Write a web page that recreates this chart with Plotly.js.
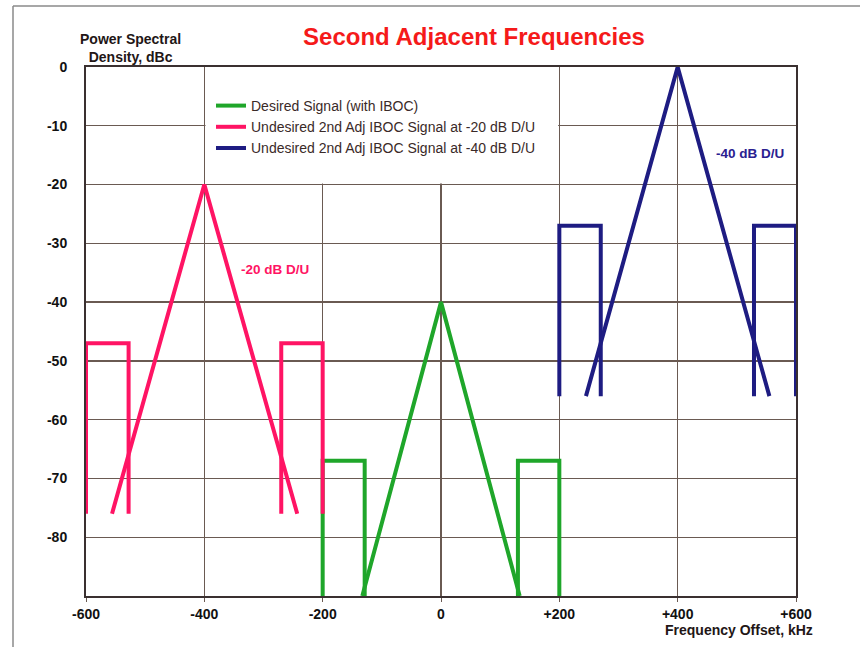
<!DOCTYPE html>
<html>
<head>
<meta charset="utf-8">
<script src="https://cdn.plot.ly/plotly-3.0.1.min.js"></script>
<style>
html,body{margin:0;padding:0;background:#fff;}
#chart{width:860px;height:647px;}
</style>
</head>
<body>
<div id="chart"></div>
<script>
// Desired signal (with IBOC), kHz / dBc
const desiredX = [-200, -200, -129, -129, null, -133, 0, 133, null, 130, 130, 200, 200];
const desiredY = [-90, -67, -67, -90, null, -90, -40, -90, null, -90, -67, -67, -90];
// Undesired 2nd adj at -20 dB D/U
const undes20X = [-600, -600, -528, -528, null, -556, -400, -243, null, -270, -270, -200, -200];
const undes20Y = [-76, -47, -47, -76, null, -76, -20, -76, null, -76, -47, -47, -76];
// Undesired 2nd adj at -40 dB D/U
const undes40X = [200, 200, 270, 270, null, 245, 400, 555, null, 529, 529, 600, 600];
const undes40Y = [-56, -27, -27, -56, null, -56, 0, -56, null, -56, -27, -27, -56];

const seriesNames = [
  'Desired Signal (with IBOC)',
  'Undesired 2nd Adj IBOC Signal at -20 dB D/U',
  'Undesired 2nd Adj IBOC Signal at -40 dB D/U'
];
const xTickVals = [-600, -400, -200, 0, 200, 400, 600];
const xTickText = ['-600', '-400', '-200', '0', '+200', '+400', '+600'];
const yTickVals = [0, -10, -20, -30, -40, -50, -60, -70, -80];
const yTickText = ['0', '-10', '-20', '-30', '-40', '-50', '-60', '-70', '-80'];

const colors = ['#1fa62a', '#ff1464', '#1e1c82'];

const traces = [
  {x: desiredX, y: desiredY, name: seriesNames[0], color: colors[0], g: 'a'},
  {x: undes20X, y: undes20Y, name: seriesNames[1], color: colors[1], g: 'b'},
  {x: undes40X, y: undes40Y, name: seriesNames[2], color: colors[2], g: 'c'}
].map(s => ({
  type: 'scatter', mode: 'lines', x: s.x, y: s.y, name: s.name,
  legendgroup: s.g,
  line: {color: s.color, width: 4, shape: 'linear'},
  connectgaps: false, hoverinfo: 'skip'
}));

const L = 86, R = 64, T = 67, B = 51, W = 860, H = 647;
const pw = W - L - R, ph = H - T - B;
const px = v => (v - L) / pw;
const py = v => (H - B - v) / ph;
const FF = 'Liberation Sans, Arial, sans-serif';

const layout = {
  width: W, height: H,
  margin: {l: L, r: R, t: T, b: B, pad: 0},
  paper_bgcolor: '#ffffff', plot_bgcolor: '#ffffff',
  font: {family: FF, color: '#111'},
  showlegend: true,
  title: {
    text: '<b>Second Adjacent Frequencies</b>',
    font: {size: 24, color: '#f51a1a', family: FF},
    x: 474 / W, xanchor: 'center', y: 1 - 37 / H, yanchor: 'middle'
  },
  xaxis: {
    range: [-600, 600], tickvals: xTickVals, ticktext: xTickText,
    showgrid: true, gridcolor: '#6a5a52', gridwidth: 1.4,
    zeroline: false, showline: true, linecolor: '#3a3030', linewidth: 2, mirror: true,
    ticks: 'outside', ticklen: 4, tickcolor: '#6a5a52', tickwidth: 1,
    tickfont: {size: 14, color: '#111', family: FF, weight: 'bold'},
    fixedrange: true
  },
  yaxis: {
    range: [-90, 0], tickvals: yTickVals, ticktext: yTickText,
    showgrid: true, gridcolor: '#6a5a52', gridwidth: 1.4,
    zeroline: false, showline: true, linecolor: '#3a3030', linewidth: 2, mirror: true,
    ticks: '', ticklabelstandoff: 14,
    tickfont: {size: 14, color: '#111', family: FF, weight: 'bold'},
    fixedrange: true
  },
  legend: {
    x: px(211), y: py(90), xanchor: 'left', yanchor: 'top',
    bgcolor: 'rgba(0,0,0,0)', borderwidth: 0,
    font: {size: 14, color: '#3a2a28', family: FF},
    tracegroupgap: 0, itemwidth: 30
  },
  shapes: [
    {type: 'rect', xref: 'x', yref: 'y', x0: -398, x1: 198, y0: -19.8, y1: 0,
     layer: 'between', fillcolor: '#ffffff', line: {width: 0}},
    {type: 'line', xref: 'paper', yref: 'paper', x0: px(13), x1: px(13), y0: py(6), y1: py(647),
     line: {color: '#8a8a8a', width: 1.5}},
    {type: 'line', xref: 'paper', yref: 'paper', x0: px(13), x1: px(860), y0: py(6), y1: py(6),
     line: {color: '#8a8a8a', width: 1.5}}
  ],
  annotations: [
    {xref: 'paper', yref: 'paper', x: px(130), y: py(48), xanchor: 'center', yanchor: 'middle',
     text: '<b>Power Spectral<br>Density, dBc</b>', showarrow: false,
     font: {size: 14, color: '#221616'}},
    {xref: 'paper', yref: 'paper', x: px(815), y: py(630), xanchor: 'right', yanchor: 'middle',
     text: '<b>Frequency Offset, kHz</b>', showarrow: false,
     font: {size: 14, color: '#221616'}},
    {xref: 'x', yref: 'y', x: -280, y: -34.4, xanchor: 'center', yanchor: 'middle',
     text: '<b>-20 dB D/U</b>', showarrow: false, font: {size: 13.5, color: '#ff1464'}},
    {xref: 'x', yref: 'y', x: 523, y: -14.8, xanchor: 'center', yanchor: 'middle',
     text: '<b>-40 dB D/U</b>', showarrow: false, font: {size: 13.5, color: '#2a2090'}}
  ]
};

Plotly.newPlot('chart', traces, layout, {staticPlot: true, displayModeBar: false});
</script>
</body>
</html>
